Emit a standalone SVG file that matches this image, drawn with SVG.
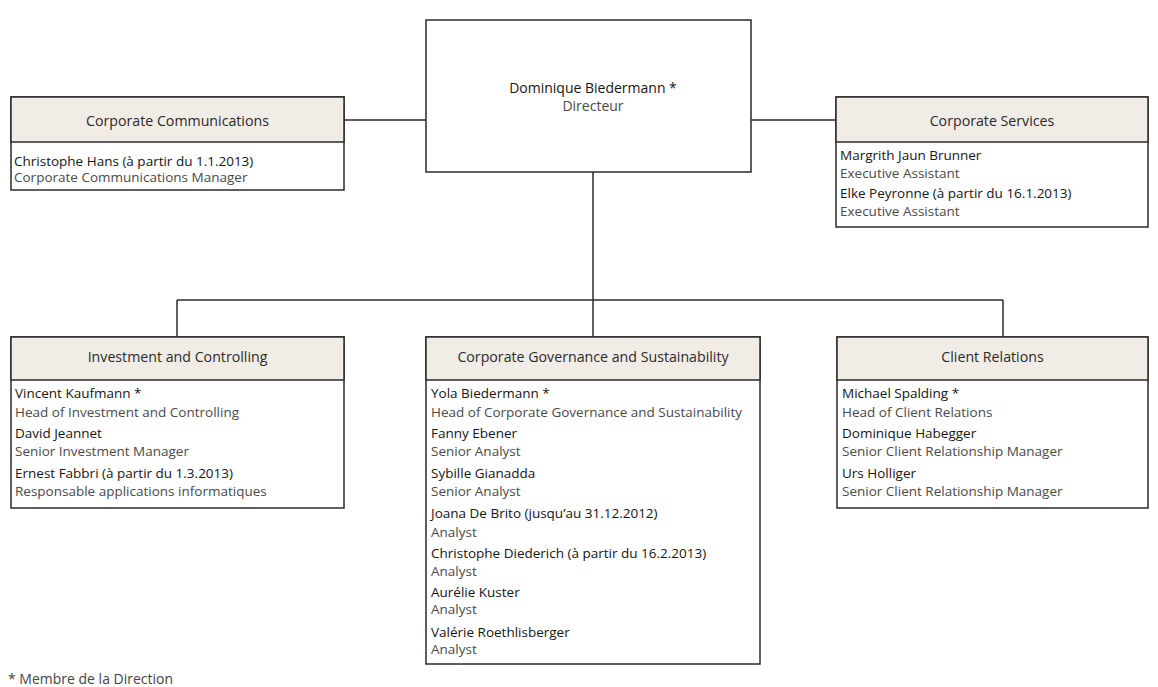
<svg xmlns="http://www.w3.org/2000/svg" width="1158" height="687" viewBox="0 0 1158 687">
<style>
.box{fill:#ffffff;stroke:#2b2b2b;stroke-width:1.5}
.hdr{fill:#f2ece7;stroke:#2b2b2b;stroke-width:1.5}
.ln{stroke:#2b2b2b;stroke-width:1.5;fill:none}
text{font-family:"Open Sans","Liberation Sans",Arial,sans-serif;font-size:13.5px}
.h{fill:#2a2a2a;text-anchor:middle;font-size:14.2px}
.n{fill:#151515;font-weight:500}
.r{fill:#4a4a4a}
.c{text-anchor:middle;font-size:14px}
.f{font-size:14px;fill:#444}
</style>
<rect width="1158" height="687" fill="#ffffff"/>
<g id="connectors">
<line class="ln" x1="344" y1="120" x2="426" y2="120"/>
<line class="ln" x1="751" y1="120" x2="836" y2="120"/>
<line class="ln" x1="593" y1="172" x2="593" y2="337"/>
<line class="ln" x1="177" y1="300" x2="1003" y2="300"/>
<line class="ln" x1="177" y1="300" x2="177" y2="337"/>
<line class="ln" x1="1003" y1="300" x2="1003" y2="337"/>
</g>
<g id="director">
<rect class="box" x="426" y="20" width="325" height="152"/>
<text class="n c" x="593" y="93">Dominique Biedermann *</text>
<text class="r c" x="593" y="111">Directeur</text>
</g>
<g id="corporate-communications">
<rect class="box" x="11" y="97" width="333" height="93"/>
<rect class="hdr" x="11" y="97" width="333" height="45"/>
<text class="h" x="177.5" y="126">Corporate Communications</text>
<text class="n" x="14" y="165.5">Christophe Hans (à partir du 1.1.2013)</text>
<text class="r" x="14" y="181.5">Corporate Communications Manager</text>
</g>
<g id="corporate-services">
<rect class="box" x="836" y="97" width="312" height="130"/>
<rect class="hdr" x="836" y="97" width="312" height="45"/>
<text class="h" x="992" y="126">Corporate Services</text>
<text class="n" x="840" y="159.5">Margrith Jaun Brunner</text>
<text class="r" x="840" y="177.5">Executive Assistant</text>
<text class="n" x="840" y="197.5">Elke Peyronne (à partir du 16.1.2013)</text>
<text class="r" x="840" y="215.5">Executive Assistant</text>
</g>
<g id="investment-controlling">
<rect class="box" x="11" y="337" width="333" height="171"/>
<rect class="hdr" x="11" y="337" width="333" height="43"/>
<text class="h" x="177.5" y="362">Investment and Controlling</text>
<text class="n" x="15" y="397.5">Vincent Kaufmann *</text>
<text class="r" x="15" y="416.5">Head of Investment and Controlling</text>
<text class="n" x="15" y="437.5">David Jeannet</text>
<text class="r" x="15" y="455.5">Senior Investment Manager</text>
<text class="n" x="15" y="477.5">Ernest Fabbri (à partir du 1.3.2013)</text>
<text class="r" x="15" y="495.5">Responsable applications informatiques</text>
</g>
<g id="corporate-governance">
<rect class="box" x="426" y="337" width="334" height="327"/>
<rect class="hdr" x="426" y="337" width="334" height="43"/>
<text class="h" x="593" y="362">Corporate Governance and Sustainability</text>
<text class="n" x="431" y="397.5">Yola Biedermann *</text>
<text class="r" x="431" y="416.5">Head of Corporate Governance and Sustainability</text>
<text class="n" x="431" y="437.5">Fanny Ebener</text>
<text class="r" x="431" y="455.5">Senior Analyst</text>
<text class="n" x="431" y="477.5">Sybille Gianadda</text>
<text class="r" x="431" y="495.5">Senior Analyst</text>
<text class="n" x="431" y="517.5">Joana De Brito (jusqu’au 31.12.2012)</text>
<text class="r" x="431" y="536.5">Analyst</text>
<text class="n" x="431" y="557.5">Christophe Diederich (à partir du 16.2.2013)</text>
<text class="r" x="431" y="575.5">Analyst</text>
<text class="n" x="431" y="596.5">Aurélie Kuster</text>
<text class="r" x="431" y="613.5">Analyst</text>
<text class="n" x="431" y="636.5">Valérie Roethlisberger</text>
<text class="r" x="431" y="653.5">Analyst</text>
</g>
<g id="client-relations">
<rect class="box" x="837" y="337" width="311" height="171"/>
<rect class="hdr" x="837" y="337" width="311" height="43"/>
<text class="h" x="992.5" y="362">Client Relations</text>
<text class="n" x="842" y="397.5">Michael Spalding *</text>
<text class="r" x="842" y="416.5">Head of Client Relations</text>
<text class="n" x="842" y="437.5">Dominique Habegger</text>
<text class="r" x="842" y="455.5">Senior Client Relationship Manager</text>
<text class="n" x="842" y="477.5">Urs Holliger</text>
<text class="r" x="842" y="495.5">Senior Client Relationship Manager</text>
</g>
<text class="f" x="8" y="684">* Membre de la Direction</text>
</svg>
